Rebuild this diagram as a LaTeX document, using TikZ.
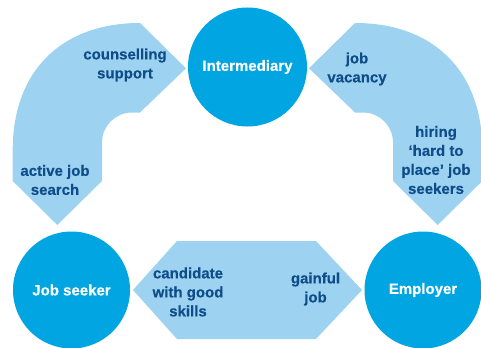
\documentclass[tikz,border=0pt]{standalone}
\usepackage{fontspec}
\setmainfont{Liberation Sans}
\newfontfamily\heavy[FakeBold=0.35]{Liberation Sans Bold}
\definecolor{bandblue}{HTML}{9DD3F1}
\definecolor{circblue}{HTML}{00A5E1}
\definecolor{txtblue}{HTML}{0F4C8A}
\begin{document}
\begin{tikzpicture}[x=1bp,y=1bp,
  band/.style={fill=bandblue,draw=none},
  actor/.style={circle,fill=circblue,draw=none,minimum size=117bp,inner sep=0pt,
    text=white,font=\fontsize{15bp}{18bp}\selectfont\heavy},
  lbl/.style={align=center,inner sep=0pt,text=txtblue,
    font=\fontsize{15bp}{19bp}\selectfont\heavy}]
\useasboundingbox (0,0) rectangle (481,347);
% left curved band arrow
\path[band] (12.7,166) -- (12.7,197) .. controls (12.7,275.7) and (61.3,324) .. (140,324)
  -- (186,278.7) -- (140,234.5) -- (132,234.5) arc[start angle=90,end angle=180,radius=30]
  -- (102,166) -- (57.3,122) -- cycle;
% right curved band arrow
\path[band] (482.3,166) -- (482.3,197) .. controls (482.3,275.7) and (433.7,324) .. (355,324)
  -- (309,278.7) -- (355,234.5) -- (363,234.5) arc[start angle=90,end angle=0,radius=30]
  -- (393,166) -- (437.7,122) -- cycle;
% bottom double arrow
\path[band] (133,57) -- (177,106) -- (316,106) -- (362,57) -- (316,8) -- (177,8) -- cycle;
% actors
\node[actor,minimum size=119bp] (inter) at (247.5,280) {Intermediary};
\node[actor] (seeker) at (71.5,57) {Job seeker};
\node[actor] (employer) at (423,57) {Employer};
% labels
\node[lbl] (counsel) at (125,282) {counselling\\support};
\node[lbl] (active) at (55,167) {active job\\search};
\node[lbl] (vacancy) at (357,278) {job\\vacancy};
\node[lbl] (hiring) at (436,187) {hiring\\‘hard to\\place’ job\\seekers};
\node[lbl] (cand) at (188,55) {candidate\\with good\\skills};
\node[lbl] (gainful) at (315.5,58) {gainful\\job};
\end{tikzpicture}
\end{document}
